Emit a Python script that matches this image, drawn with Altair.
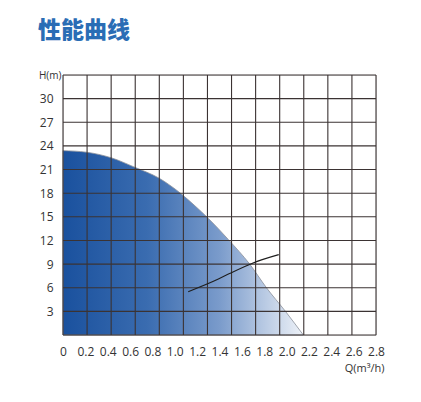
import altair as alt
import pandas as pd

# Performance curve (H vs Q)
curve_q = [0.0, 0.21, 0.43, 0.64, 0.86, 1.05, 1.18, 1.30, 1.48, 1.67, 1.82, 1.99, 2.15]
curve_h = [23.4, 23.2, 22.5, 21.3, 19.9, 18.0, 16.4, 14.8, 12.1, 9.0, 6.0, 3.0, 0.0]

# System line
line_q = [1.12, 1.39, 1.49, 1.70, 1.93]
line_h = [5.5, 7.1, 7.8, 9.15, 10.2]

x_labels = [0, 0.2, 0.4, 0.6, 0.8, 1.0, 1.2, 1.4, 1.6, 1.8, 2.0, 2.2, 2.4, 2.6, 2.8]
y_labels = [3, 6, 9, 12, 15, 18, 21, 24, 27, 30]
x_grid = [k * 2.8 / 13 for k in range(14)]
y_grid = [0, 3, 6, 9, 12, 15, 18, 21, 24, 27, 30, 33]

curve_df = pd.DataFrame({"Q": curve_q, "H": curve_h})
line_df = pd.DataFrame({"Q": line_q, "H": line_h})
vgrid = pd.DataFrame({"Q": x_grid})
hgrid = pd.DataFrame({"H": y_grid})

xs = alt.Scale(domain=[0, 2.8], nice=False, zero=False)
ys = alt.Scale(domain=[0, 33], nice=False)

x_axis = alt.Axis(values=x_labels, grid=False, ticks=False, domain=False,
                  labelPadding=11, labelFontSize=12, labelColor="#333333",
                  labelFont="Open Sans", labelFlush=False, labelOverlap=False,
                  labelBound=False,
                  title="Q(m³/h)", titleFont="Open Sans", titleFontSize=11,
                  titleFontWeight="normal", titleColor="#333333",
                  titleX=321, titleY=33, titleAlign="right", titleBaseline="middle",
                  labelExpr="datum.value == 0 ? '0' : format(datum.value, '.1f')")
y_axis = alt.Axis(values=y_labels, grid=False, ticks=False, domain=False,
                  labelPadding=10, labelFontSize=12, labelColor="#333333",
                  labelFont="Open Sans", labelOverlap=False, labelBound=False,
                  title="H(m)", titleFont="Open Sans", titleFontSize=10,
                  titleFontWeight="normal", titleColor="#333333",
                  titleAngle=0, titleX=-2, titleY=0, titleAlign="right",
                  titleBaseline="middle")

area = alt.Chart(curve_df).mark_area(
    color=alt.Gradient(
        gradient="linear",
        stops=[alt.GradientStop(color="#1a519e", offset=0),
               alt.GradientStop(color="#3a6cb0", offset=0.35),
               alt.GradientStop(color="#7a9bcb", offset=0.65),
               alt.GradientStop(color="#eef2f8", offset=1)],
        x1=0, x2=1, y1=0, y2=0),
    interpolate="monotone",
    stroke="#8a8f99", strokeWidth=0.8,
).encode(
    x=alt.X("Q:Q", scale=xs, axis=x_axis),
    y=alt.Y("H:Q", scale=ys, axis=y_axis),
)

vlines = alt.Chart(vgrid).mark_rule(color="#3b3333", strokeWidth=1.1).encode(
    x=alt.X("Q:Q", scale=xs, axis=x_axis), y=alt.value(0), y2=alt.value(260))
hlines = alt.Chart(hgrid).mark_rule(color="#3b3333", strokeWidth=1.1).encode(
    y=alt.Y("H:Q", scale=ys, axis=y_axis), x=alt.value(0), x2=alt.value(313))

sysline = alt.Chart(line_df).mark_line(color="#1e1e1e", strokeWidth=1.1,
                                       interpolate="monotone").encode(
    x=alt.X("Q:Q", scale=xs, axis=x_axis), y=alt.Y("H:Q", scale=ys, axis=y_axis))

chart = alt.layer(area, vlines, hlines, sysline).properties(
    width=313, height=260,
    title=alt.TitleParams("性能曲线", anchor="start", frame="group",
                          font="Noto Sans CJK SC", fontSize=23, fontWeight=900,
                          color="#2a6db5", dx=-25, offset=27),
    autosize=alt.AutoSizeParams(type="none"),
    padding={"left": 55, "top": 67, "right": 20, "bottom": 40},
).configure_view(stroke=None).configure(background="white")

chart.save("out.html", embed_options={"renderer": "svg", "actions": False})
